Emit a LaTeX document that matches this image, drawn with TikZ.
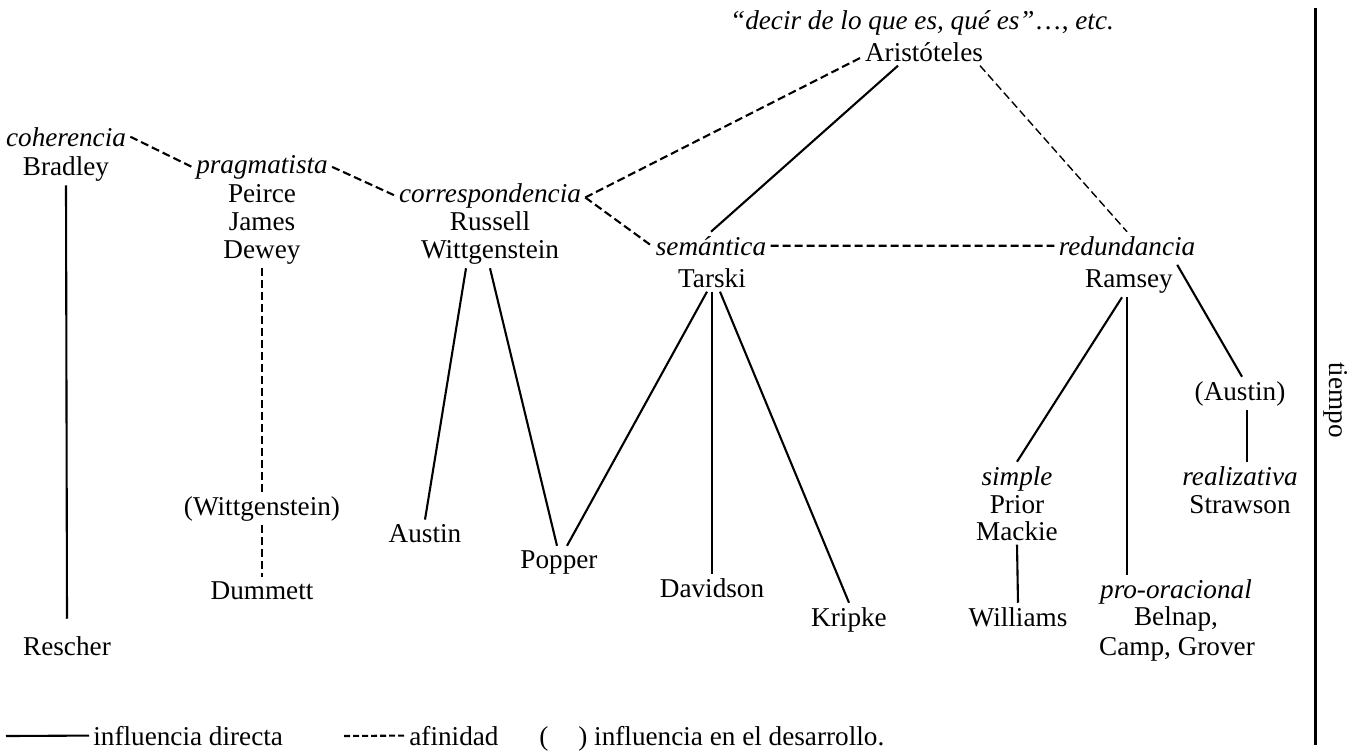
\documentclass[tikz,border=0pt]{standalone}
\usepackage{fontspec}
\setmainfont{Liberation Serif}
\usepackage{tikz}
\usetikzlibrary{positioning}
\colorlet{background}{white}
\colorlet{penColor}{black}
\tikzset{autor/.style={anchor=base,inner sep=2pt,text=penColor,
    font=\fontsize{13.6}{14}\selectfont},
  escuela/.style={autor,font=\fontsize{13.6}{14}\selectfont\itshape},
  directa/.style={penColor,line width=1.05pt},
  afin/.style={penColor,line width=1.05pt,dash pattern=on 4pt off 2pt}}

\begin{document}
\begin{tikzpicture}[x=.5pt,y=-.5pt]
    \useasboundingbox[fill=background] (0,0) rectangle (1363,752);

    \node[escuela] (lema) at (922,29) {“decir de lo que es, qué es”\textup{\ldots,} etc.};
    \node[autor] (arist) at (924,61) {Aristóteles};

    \node[escuela] (coh) at (66,146) {coherencia};
    \node[autor] (brad) at (66,175) {Bradley};
    \node[autor] (resch) at (67,655) {Rescher};

    \node[escuela] (prag) at (262,173) {pragmatista};
    \node[autor] (peir) at (262,202) {Peirce};
    \node[autor] (jam) at (262,230) {James};
    \node[autor] (dew) at (262,258) {Dewey};
    \node[autor] (witt2) at (262,515) {(Wittgenstein)};
    \node[autor] (dumm) at (262,599) {Dummett};

    \node[escuela] (corr) at (490,202) {correspondencia};
    \node[autor] (russ) at (490,230) {Russell};
    \node[autor] (witt) at (490,258) {Wittgenstein};
    \node[autor] (aust) at (425,542) {Austin};
    \node[autor] (popp) at (559,568) {Popper};

    \node[escuela] (sem) at (711,255) {semántica};
    \node[autor] (tars) at (712,287) {Tarski};
    \node[autor] (dav) at (712,597) {Davidson};
    \node[autor] (krip) at (849,626) {Kripke};

    \node[escuela] (red) at (1127,255) {redundancia};
    \node[autor] (rams) at (1129,287) {Ramsey};
    \node[escuela] (simp) at (1017,485) {simple};
    \node[autor] (prio) at (1017,513) {Prior};
    \node[autor] (mack) at (1017,540) {Mackie};
    \node[autor] (will) at (1018,626) {Williams};
    \node[escuela] (proor) at (1176,598) {pro-oracional};
    \node[autor] (beln) at (1176,625) {Belnap,};
    \node[autor] (camp) at (1177,655) {Camp, Grover};
    \node[autor] (aust2) at (1240,400) {(Austin)};
    \node[escuela] (real) at (1240,485) {realizativa};
    \node[autor] (straw) at (1240,513) {Strawson};

    \draw[afin] (coh.east) -- (prag.west);
    \draw[afin] (prag.east) -- (corr.west);
    \draw[afin] ([yshift=-1pt]corr.east) -- ([yshift=-3pt]arist.west);
    \draw[afin] ([yshift=-1pt]corr.east) -- (sem.west);
    \draw[afin] (sem.east) -- (red.west);
    \draw[afin,line width=.7pt] ([xshift=28pt]arist.south) -- (red.north);
    \draw[directa] ([xshift=-13pt]arist.south) -- (sem.north);

    \draw[directa] (brad.south) -- ([yshift=6.5pt]resch.north);
    \draw[afin] (dew.south) -- (witt2.north);
    \draw[afin] (witt2.south) -- (dumm.north);
    \draw[directa] ([xshift=-12pt]witt.south) -- (aust.north);
    \draw[directa] (witt.south) -- ([xshift=-1pt]popp.north);
    \draw[directa] ([xshift=-2.5pt]tars.south) -- ([xshift=4pt]popp.north);
    \draw[directa] (tars.south) -- (dav.north);
    \draw[directa] ([xshift=4pt]tars.south) -- (krip.north);
    \draw[directa] (rams.north east) -- ([xshift=1pt]aust2.north);
    \draw[directa] ([xshift=3.5pt]aust2.south) -- ([xshift=3.5pt]real.north);
    \draw[directa] ([xshift=-3.5pt]rams.south) -- (simp.north);
    \draw[directa] ([xshift=-1pt]rams.south) -- ([xshift=-1pt]rams.south |- proor.north);
    \draw[directa] (mack.south) -- (will.north);

    \node[autor,anchor=base west] (ldir) at (89,745) {influencia directa};
    \node[autor,anchor=base west] (lafin) at (405,745) {afinidad};
    \node[autor,anchor=base west] (ldes) at (535,745) {(\hspace{1.1em}) influencia en el desarrollo.};
    \coordinate (lsol) at (6,736);
    \coordinate (ldash) at (344,736);
    \draw[directa] (lsol) -- (ldir.west);
    \draw[afin,dash pattern=on 3pt off 1.5pt] (ldash) -- (lafin.west);

    \coordinate (t0) at (1315,8);
    \coordinate (t1) at (1315,745);
    \draw[penColor,line width=1.5pt] (t0) -- (t1);
    \node[autor,rotate=-90,anchor=center] (tiempo) at (1336,400) {tiempo};
  \end{tikzpicture}
\end{document}
